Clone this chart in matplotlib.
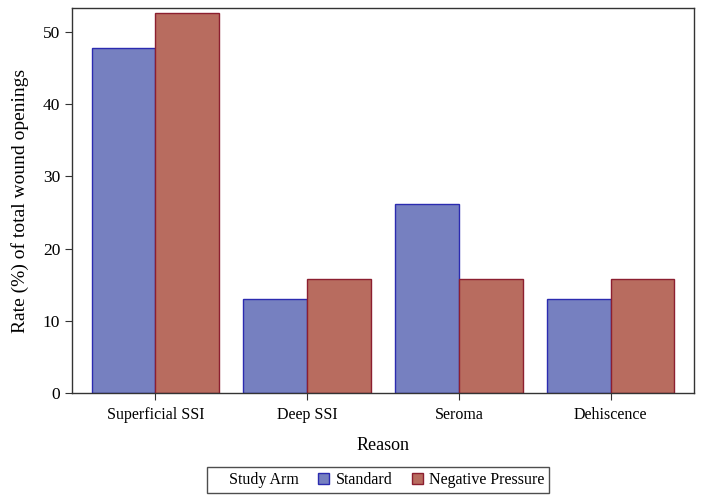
import numpy as np
import matplotlib.pyplot as plt
from matplotlib.patches import Patch

plt.rcParams['font.family'] = ['Liberation Serif', 'DejaVu Serif']

reasons = ["Superficial SSI", "Deep SSI", "Seroma", "Dehiscence"]
standard = [47.8, 13.0, 26.1, 13.0]
negative_pressure = [52.6, 15.8, 15.8, 15.8]
yticks = [0, 10, 20, 30, 40, 50]

blue_fill, blue_edge = "#7680c0", "#2b2bb0"
red_fill, red_edge = "#b86c5f", "#8c1f30"

fig = plt.figure(figsize=(7.04, 5.0), dpi=100)
ax = fig.add_axes([72 / 704, 1 - 393 / 500, 622 / 704, 385 / 500])

x = np.arange(len(reasons))
w = 0.42
ax.bar(x - w / 2, standard, w, color=blue_fill, edgecolor=blue_edge, linewidth=1.0)
ax.bar(x + w / 2, negative_pressure, w, color=red_fill, edgecolor=red_edge, linewidth=1.0)

ax.set_xlim(-0.55, 3.55)
ax.set_ylim(0, 53.3)
ax.set_xticks(x)
ax.set_xticklabels(reasons, fontsize=11.5)
ax.set_yticks(yticks)
ax.tick_params(axis='y', labelsize=12.5, length=5, color="#333333")
ax.tick_params(axis='x', length=5, color="#333333", pad=5)
for s in ax.spines.values():
    s.set_color("#333333")
    s.set_linewidth(1.0)

ax.set_xlabel("Reason", fontsize=13, labelpad=10)
ax.set_ylabel("Rate (%) of total wound openings", fontsize=14, labelpad=10)

handles = [Patch(visible=False),
           Patch(facecolor=blue_fill, edgecolor=blue_edge),
           Patch(facecolor=red_fill, edgecolor=red_edge)]
labels = ["Study Arm", "Standard", "Negative Pressure"]
leg = fig.legend(handles, labels, ncol=3, loc='center', bbox_to_anchor=(378 / 704, 1 - 480 / 500),
                 fontsize=11.5, frameon=True, fancybox=False, edgecolor="#222222",
                 handlelength=0.7, handleheight=0.7, handletextpad=0.4, columnspacing=1.2,
                 borderpad=0.3, borderaxespad=0)
leg.get_frame().set_linewidth(1.0)

fig.savefig("out.png", dpi=100)
